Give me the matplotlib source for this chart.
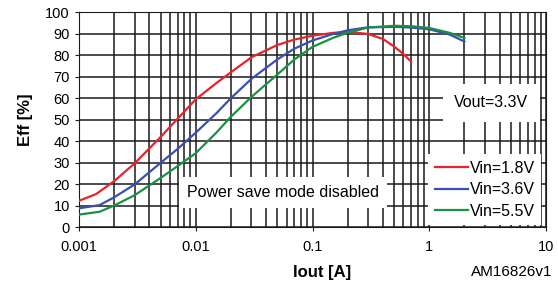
import matplotlib
matplotlib.use("Agg")
import matplotlib.pyplot as plt
from matplotlib.ticker import LogLocator, NullFormatter

plt.rcParams['font.family'] = ['Liberation Sans', 'DejaVu Sans']

# efficiency curves
iout_18 = [0.001, 0.0014, 0.002, 0.003, 0.005, 0.007, 0.01, 0.015, 0.02, 0.03,
           0.05, 0.07, 0.1, 0.15, 0.2, 0.3, 0.4, 0.5, 0.6, 0.7]
eff_18 = [12.4, 15.5, 21.5, 29.8, 42.0, 50.5, 59.5, 67.0, 72.0, 79.0,
          84.7, 87.2, 89.0, 90.3, 90.8, 89.8, 87.5, 84.0, 80.5, 77.0]

iout_36 = [0.001, 0.0015, 0.002, 0.003, 0.005, 0.007, 0.01, 0.015, 0.02, 0.03,
           0.05, 0.07, 0.1, 0.15, 0.2, 0.3, 0.5, 0.7, 1.0, 1.5, 2.0]
eff_36 = [8.9, 10.4, 14.0, 20.0, 30.0, 36.5, 44.0, 53.0, 60.0, 69.0,
          78.0, 83.0, 86.8, 89.8, 91.5, 92.9, 93.1, 92.8, 92.0, 89.5, 86.3]

iout_55 = [0.001, 0.0015, 0.002, 0.003, 0.005, 0.007, 0.01, 0.015, 0.02, 0.03,
           0.05, 0.07, 0.1, 0.15, 0.2, 0.3, 0.5, 0.7, 1.0, 1.5, 2.0]
eff_55 = [6.0, 7.3, 10.2, 15.0, 23.0, 28.5, 34.5, 44.0, 51.4, 60.6,
          71.0, 78.0, 83.8, 88.0, 90.4, 92.8, 93.6, 93.4, 92.6, 90.3, 88.0]

fig = plt.figure(figsize=(5.58, 2.92), dpi=100)
ax = fig.add_axes([0.1416, 0.2209, 0.8369, 0.738])

ax.plot(iout_18, eff_18, color='#e8232a', lw=1.6, label='Vin=1.8V', zorder=3)
ax.plot(iout_36, eff_36, color='#3b4fb3', lw=1.6, label='Vin=3.6V', zorder=3)
ax.plot(iout_55, eff_55, color='#1a8f45', lw=1.6, label='Vin=5.5V', zorder=3)

ax.set_xscale('log')
ax.set_xlim(0.001, 10)
ax.set_ylim(0, 100)
ax.set_xticks([0.001, 0.01, 0.1, 1, 10])
ax.set_xticklabels(['0.001', '0.01', '0.1', '1', '10'])
ax.xaxis.set_minor_locator(LogLocator(base=10, subs=range(2, 10)))
ax.xaxis.set_minor_formatter(NullFormatter())
ax.set_yticks(range(0, 101, 10))

ax.grid(which='major', color='#1a1a1a', lw=1.1)
ax.grid(which='minor', axis='x', color='#1a1a1a', lw=1.1)
ax.tick_params(which='major', labelsize=10.5, length=3, color='#1a1a1a')
ax.tick_params(axis='x', which='major', pad=6)
ax.tick_params(which='minor', length=0)
for s in ax.spines.values():
    s.set_color('#1a1a1a')

ax.set_xlabel('Iout [A]', fontsize=12, fontweight='bold')
ax.xaxis.set_label_coords(0.52, -0.207)
ax.xaxis.label.set_va('center')
ax.set_ylabel('Eff [%]', fontsize=12, fontweight='bold', labelpad=9)

ax.text(0.056, 16.2, 'Power save mode disabled', fontsize=11.5, ha='center', va='center',
        bbox=dict(facecolor='white', edgecolor='none', pad=6), zorder=4)
ax.text(3.4, 57.8, 'Vout=3.3V', fontsize=11.5, ha='center', va='center',
        bbox=dict(facecolor='white', edgecolor='none', pad=8), zorder=4)

leg = ax.legend(loc='lower right', bbox_to_anchor=(0.99, 0.012), fontsize=11.5,
                frameon=True, fancybox=False, framealpha=1, edgecolor='none',
                handlelength=2.1, handletextpad=0.1, labelspacing=0.4,
                borderpad=0.4, borderaxespad=0.0)
leg.set_zorder(5)

fig.text(0.99, 0.068, 'AM16826v1', fontsize=11, ha='right', va='center')

fig.savefig('out.png', dpi=100)
